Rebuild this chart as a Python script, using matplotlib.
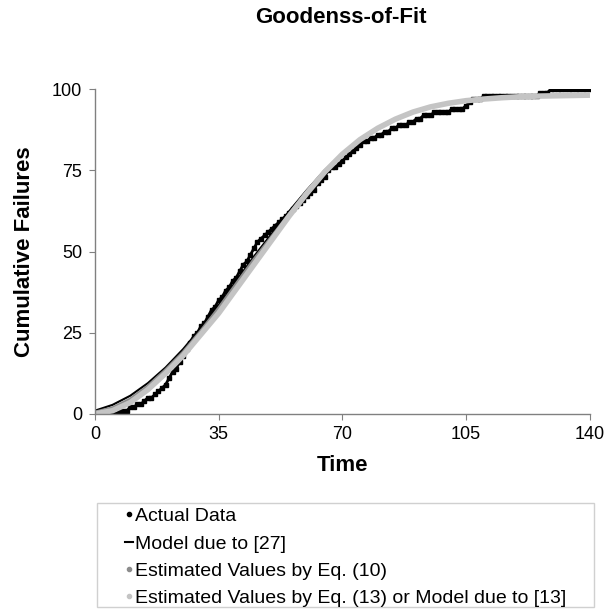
import matplotlib
matplotlib.use("Agg")
import matplotlib.pyplot as plt
from matplotlib.lines import Line2D
from matplotlib.patches import Rectangle

plt.rcParams['font.family'] = ['Liberation Sans', 'DejaVu Sans']

# Actual data (cumulative failures per time unit 0..140)
actual_time = list(range(0, 141))
actual_failures = [
    0, 0, 0, 0, 0, 0, 0, 1, 1, 1, 2, 2, 3, 3, 4, 5, 5, 6, 7, 8,
    9, 11, 13, 14, 16, 18, 20, 22, 24, 25, 27, 28, 30, 32, 33, 35, 36, 38, 39, 41,
    42, 44, 46, 47, 49, 51, 53, 54, 55, 56, 57, 58, 59, 60, 61, 62, 63, 64, 65, 66,
    67, 68, 69, 71, 72, 73, 75, 76, 76, 77, 78, 79, 80, 81, 82, 83, 84, 84, 85, 85,
    86, 86, 87, 87, 88, 88, 89, 89, 89, 90, 90, 91, 91, 92, 92, 92, 93, 93, 93, 93,
    93, 94, 94, 94, 94, 95, 96, 97, 97, 97, 98, 98, 98, 98, 98, 98, 98, 98, 98, 98,
    98, 98, 98, 98, 98, 98, 99, 99, 99, 100, 100, 100, 100, 100, 100, 100, 100, 100, 100, 100,
    100,
]

# Fitted curves, read at every 5 time units
model_time = [0, 5, 10, 15, 20, 25, 30, 35, 40, 45, 50, 55, 60, 65, 70,
              75, 80, 85, 90, 95, 100, 105, 110, 115, 120, 125, 130, 135, 140]
model_27 = [1.0, 2.8, 5.6, 9.5, 14.3, 20, 26.5, 33.5, 41, 48.5, 55.5, 62.5, 69, 75, 80,
            84.5, 88, 90.8, 93, 94.7, 95.8, 96.6, 97.1, 97.5, 97.8, 98, 98.1, 98.2, 98.3]
eq_10 = [0.5, 1.8, 4.5, 8.5, 13.5, 19, 25.5, 32.5, 40, 47.5, 54.5, 61.5, 68.5, 74.8, 80,
         84.5, 88, 90.8, 93, 94.6, 95.7, 96.5, 97, 97.4, 97.7, 97.9, 98, 98.1, 98.2]
eq_13 = [0, 1, 3.5, 7.5, 12.5, 18, 24.5, 31, 38.5, 46, 53.5, 61, 68, 74.5, 80,
         84.5, 88, 90.8, 93, 94.6, 95.7, 96.5, 97, 97.4, 97.7, 97.9, 98, 98.1, 98.2]

x_ticks = [0, 35, 70, 105, 140]
y_ticks = [0, 25, 50, 75, 100]

fig = plt.figure(figsize=(6.08, 6.16), dpi=100)
ax = fig.add_axes([0.156, 0.328, 0.814, 0.527])

ax.plot(actual_time, actual_failures, color='black', marker='s', markersize=3,
        linewidth=2, solid_joinstyle='miter')
ax.plot(model_time, model_27, color='black', linewidth=1.5)
ax.plot(model_time, eq_10, color='#8c8c8c', linewidth=2.5)
ax.plot(model_time, eq_13, color='#c4c4c4', linewidth=4)

ax.set_xlim(0, 140)
ax.set_ylim(0, 100)
ax.set_xticks(x_ticks)
ax.set_yticks(y_ticks)
ax.tick_params(labelsize=13, direction='out', length=4, color='#808080', pad=5)
for side in ['top', 'right']:
    ax.spines[side].set_visible(False)
for side in ['left', 'bottom']:
    ax.spines[side].set_color('#808080')
    ax.spines[side].set_linewidth(1)

ax.set_xlabel('Time', fontsize=16, fontweight='bold', labelpad=8)
ax.set_ylabel('Cumulative Failures', fontsize=16, fontweight='bold', labelpad=12)
fig.text(0.561, 0.972, 'Goodenss-of-Fit', ha='center', va='center',
         fontsize=16, fontweight='bold')

# Legend below the plot
handles = [
    Line2D([], [], color='black', marker='o', markersize=3, linestyle='none'),
    Line2D([], [], color='black', linewidth=1.5),
    Line2D([], [], color='#8c8c8c', marker='o', markersize=3, linestyle='none'),
    Line2D([], [], color='#c4c4c4', marker='o', markersize=3, linestyle='none'),
]
labels = ['Actual Data', 'Model due to [27]', 'Estimated Values by Eq. (10)',
          'Estimated Values by Eq. (13) or Model due to [13]']
fig.patches.append(Rectangle((0.16, 0.015), 0.817, 0.168, transform=fig.transFigure,
                             fill=False, edgecolor='#d0d0d0', linewidth=1))
fig.legend(handles, labels, loc='upper left', bbox_to_anchor=(0.206, 0.176),
           frameon=False, fontsize=14, handlelength=0.4, handletextpad=0.1,
           labelspacing=0.5, borderpad=0, borderaxespad=0)

fig.savefig('out.png', dpi=100)
